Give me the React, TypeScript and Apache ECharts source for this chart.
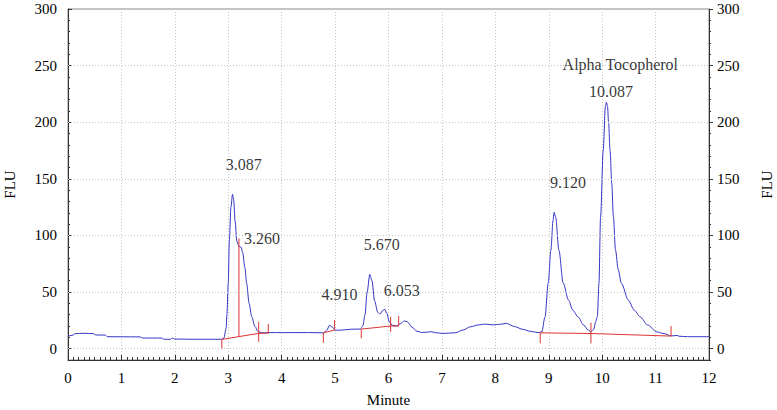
import React, { useEffect, useRef } from 'react';
import * as echarts from 'echarts';

// Chromatogram trace (minutes, FLU)
const times = [
  0.0, 0.08, 0.14, 0.3, 0.47, 0.52, 0.7, 0.74, 1.0, 1.35, 1.4, 1.76, 1.79, 1.92, 1.95, 2.0, 2.4, 2.88,
  2.92, 2.96, 2.975, 3.0, 3.02, 3.05, 3.08, 3.1, 3.13, 3.16, 3.2, 3.24, 3.27, 3.31, 3.345, 3.39, 3.44, 3.5, 3.56, 3.62,
  3.8, 4.0, 4.5, 4.78, 4.84, 4.9, 4.95, 5.0, 5.1, 5.3, 5.47,
  5.52, 5.56, 5.6, 5.65, 5.69, 5.74, 5.8, 5.84, 5.9, 5.93, 5.97, 6.02, 6.08, 6.15, 6.22, 6.3, 6.35, 6.44, 6.53,
  6.62, 6.7, 6.8, 6.9, 7.0, 7.25, 7.4, 7.53, 7.68, 7.81, 7.96, 8.08, 8.21, 8.36, 8.52, 8.66, 8.8, 8.87,
  8.93, 8.99, 9.04, 9.08, 9.1, 9.13, 9.19, 9.27, 9.37, 9.45, 9.55, 9.65, 9.74, 9.79,
  9.84, 9.88, 9.91, 9.94, 9.97, 10.02, 10.06, 10.08, 10.1, 10.12, 10.147, 10.18, 10.21, 10.25, 10.3, 10.36, 10.49,
  10.6, 10.71, 10.85, 11.02, 11.14, 11.3, 11.36, 11.4, 11.44, 11.6, 12.0,
];
const flu = [
  11.1, 11.8, 13.3, 13.6, 13.3, 12.1, 12.0, 10.6, 10.5, 10.4, 9.4, 9.4, 8.3, 8.3, 9.4, 8.5, 8.3, 8.3,
  9.5, 18, 30, 57.7, 95, 125, 136.3, 132, 112, 95, 90.5, 89.5, 85, 72, 57.7, 40, 28.2, 19.5, 15, 14,
  14.2, 14.2, 14.2, 14, 16, 20.8, 19, 16.4, 16.3, 17.2, 17.3,
  20, 30, 50, 65.6, 60, 42, 32, 30.6, 34, 34.7, 31, 23, 20.5, 20.2, 22, 24.5, 23.8, 19, 15.5,
  14.3, 14.5, 15, 14, 13.5, 14, 16.5, 19.3, 21, 21.7, 21, 21.5, 22.3, 19.5, 17, 15.3, 14.2, 14.9,
  28, 58, 87, 113, 120.4, 116, 87, 58, 43, 34, 28, 21, 16.4, 14.9,
  17, 24, 28.2, 57.7, 116.5, 175.4, 214, 217.6, 214, 200, 175.4, 146, 116.5, 87.1, 70, 57.7, 42.9,
  34, 28.2, 21, 14.9, 13.5, 11.3, 11.5, 11.7, 11.0, 10.6, 10.6,
];

// Axis tick labels
const yTickLabels = [0, 50, 100, 150, 200, 250, 300];

// Peak annotations (text, position in minutes / FLU)
const peakNames = ['3.087', '3.260', '4.910', '5.670', '6.053', '9.120', '10.087', 'Alpha Tocopherol'];
const peakLabelX = [3.29, 3.63, 5.085, 5.875, 6.25, 9.36, 10.165, 10.34];
const peakLabelY = [163, 97.4, 48.2, 92.4, 51.1, 146.9, 227, 251.4];

// Integration baselines
const baselineX = [[2.88, 3.57, 3.75], [4.78, 4.99], [5.49, 6.04, 6.19], [8.84, 9.79, 11.29]];
const baselineY = [[8.2, 13.5, 13.8], [14, 16.4], [17.3, 20, 20], [14, 13.4, 11.1]];

// Integration event markers (vertical red ticks)
const markerX = [2.88, 3.57, 3.75, 4.78, 4.99, 5.49, 6.04, 6.19, 8.84, 9.79, 11.29, 3.2];
const markerLow = [-0.6, 6.1, 13.5, 5.2, 16.4, 9.1, 14.9, 20, 4.7, 4.7, 11.1, 10.7];
const markerHigh = [8.2, 23.8, 21.7, 14, 25.3, 17.3, 28.2, 28.8, 14, 22.9, 20, 97.4];

const FONT = '"Liberation Serif", "Times New Roman", serif';
const BLUE = '#3434c4';
const RED = '#dd3333';
const AXIS = '#333';

export default function App() {
  const ref = useRef<HTMLDivElement>(null);

  useEffect(() => {
    if (!ref.current) return;
    const chart = echarts.init(ref.current, null, { renderer: 'svg' });

    const redSeries: any[] = [];
    baselineX.forEach((xs, i) => {
      redSeries.push({
        type: 'line',
        data: xs.map((x, j) => [x, baselineY[i][j]]),
        showSymbol: false,
        symbol: 'none',
        silent: true,
        lineStyle: { color: RED, width: 1 },
        z: 4,
      });
    });
    markerX.forEach((x, i) => {
      redSeries.push({
        type: 'line',
        data: [[x, markerLow[i]], [x, markerHigh[i]]],
        showSymbol: false,
        symbol: 'none',
        silent: true,
        lineStyle: { color: RED, width: 1 },
        z: 4,
      });
    });

    const yCommon = {
      type: 'value',
      min: -10,
      max: 300,
      interval: 10,
      axisLine: { show: true, onZero: false, lineStyle: { color: AXIS, width: 1 } },
      splitLine: { show: false },
      nameLocation: 'middle',
      nameRotate: 90,
      nameTextStyle: { fontFamily: FONT, fontSize: 15, color: '#000' },
      name: 'FLU',
    };

    const option: any = {
      animation: false,
      backgroundColor: '#fff',
      grid: {
        left: 68,
        right: 68,
        top: 9,
        bottom: 50,
        show: true,
        borderColor: '#888',
        borderWidth: 1,
        containLabel: false,
        outerBoundsMode: 'none',
      },
      xAxis: {
        type: 'value',
        min: 0,
        max: 12,
        interval: 1,
        name: 'Minute',
        nameLocation: 'middle',
        nameGap: 32,
        nameTextStyle: { fontFamily: FONT, fontSize: 15, color: '#000' },
        axisLine: { show: true, onZero: false, lineStyle: { color: AXIS, width: 1 } },
        axisTick: { show: true, inside: true, length: 5, lineStyle: { color: AXIS } },
        minorTick: { show: true, splitNumber: 10, length: 3, lineStyle: { color: AXIS } },
        axisLabel: { fontFamily: FONT, fontSize: 15, color: '#000', margin: 10 },
        splitLine: { show: true, lineStyle: { color: '#c4c4c4', type: [1, 2], width: 1 } },
      },
      yAxis: [
        {
          ...yCommon,
          position: 'left',
          nameGap: 51,
          axisTick: { show: true, inside: true, length: 2, lineStyle: { color: AXIS } },
          axisLabel: {
            fontFamily: FONT,
            fontSize: 15,
            color: '#000',
            margin: 11,
            formatter: (v: number) => (yTickLabels.includes(v) ? String(v) : ''),
          },
        },
        {
          ...yCommon,
          position: 'right',
          nameGap: 50,
          axisTick: { show: true, inside: false, length: 2, lineStyle: { color: AXIS } },
          axisLabel: {
            fontFamily: FONT,
            fontSize: 15,
            color: '#000',
            margin: 8,
            formatter: (v: number) => (yTickLabels.includes(v) ? String(v) : ''),
          },
        },
        {
          type: 'value',
          position: 'left',
          min: -10,
          max: 300,
          axisLine: { show: false, onZero: false },
          axisLabel: { show: false },
          splitLine: { show: false },
          axisTick: { show: true, inside: true, length: 4, customValues: yTickLabels, lineStyle: { color: AXIS } },
        },
        {
          type: 'value',
          position: 'right',
          min: -10,
          max: 300,
          axisLine: { show: false, onZero: false },
          axisLabel: { show: false },
          splitLine: { show: false },
          axisTick: { show: true, inside: false, length: 4, customValues: yTickLabels, lineStyle: { color: AXIS } },
        },
      ],
      series: [
        {
          type: 'line',
          name: 'FLU',
          data: times.map((t, i) => [t, flu[i]]),
          showSymbol: false,
          symbol: 'none',
          smooth: 0.3,
          smoothMonotone: 'x',
          lineStyle: { color: BLUE, width: 1 },
          z: 3,
          markLine: {
            silent: true,
            symbol: 'none',
            label: { show: false },
            lineStyle: { color: '#c4c4c4', type: [1, 2], width: 1 },
            data: yTickLabels.filter((v) => v < 300).map((v) => ({ yAxis: v })),
          },
        },
        ...redSeries,
        {
          type: 'scatter',
          data: peakNames.map((n, i) => ({ name: n, value: [peakLabelX[i], peakLabelY[i]] })),
          symbolSize: 0,
          silent: true,
          label: {
            show: true,
            position: 'inside',
            formatter: (p: any) => p.name,
            fontFamily: FONT,
            fontSize: 16,
            color: '#000',
          },
          z: 6,
        },
      ],
    };

    chart.setOption(option);
    return () => chart.dispose();
  }, []);

  return (
    <div
      ref={ref}
      style={{ position: 'absolute', left: 0, top: 0, width: 777, height: 410, background: '#fff' }}
    />
  );
}
